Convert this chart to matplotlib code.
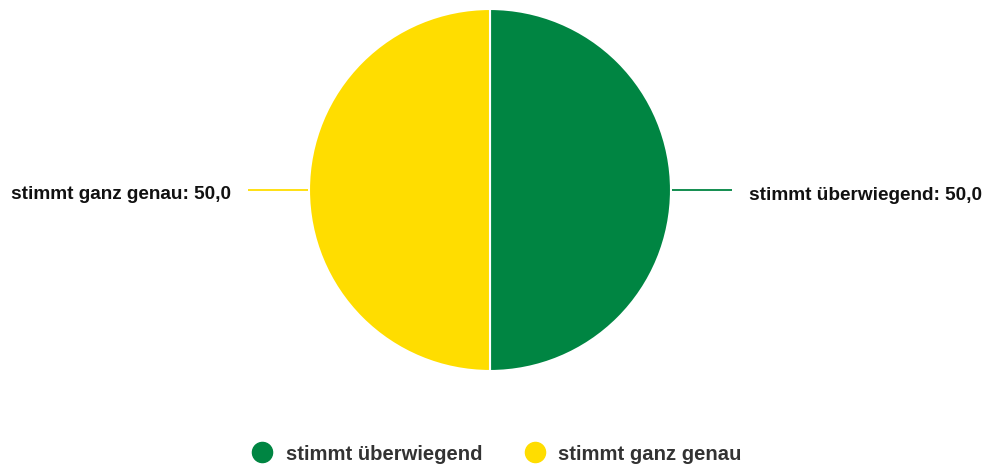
import matplotlib
matplotlib.use("Agg")
import matplotlib.pyplot as plt
from matplotlib.lines import Line2D
import numpy as np

categories = ["stimmt überwiegend", "stimmt ganz genau"]
values = [50.0, 50.0]
colors = ["#008542", "#FFDD00"]

plt.rcParams['font.family'] = ['Liberation Sans', 'DejaVu Sans']

W, H = 988, 469
fig = plt.figure(figsize=(W / 100, H / 100), dpi=100)
ax = fig.add_axes([0, 0, 1, 1])

cx, cy, r = 490, H - 190, 181
wedges, _ = ax.pie(values, colors=colors, startangle=90, counterclock=False,
                   center=(cx, cy), radius=r, frame=True,
                   wedgeprops=dict(edgecolor='white', linewidth=1.5))
ax.set_xlim(0, W)
ax.set_ylim(0, H)
ax.set_aspect('equal')
ax.axis('off')

for w, cat, val, col in zip(wedges, categories, values, colors):
    ang = np.deg2rad((w.theta1 + w.theta2) / 2)
    dx, dy = np.cos(ang), np.sin(ang)
    x0 = cx + (r + 1) * dx
    y0 = cy + (r + 1) * dy
    x1 = cx + (r + 61) * dx
    y1 = cy + (r + 61) * dy
    ax.plot([x0, x1], [y0, y1], color=col, lw=1.3, solid_capstyle='butt')
    ha = 'left' if dx > 0 else 'right'
    tx = x1 + 17 * (1 if dx > 0 else -1)
    ax.text(tx, y1 - 5, f"{cat}: {val:.1f}".replace('.', ','), ha=ha, va='center',
            fontsize=13.7, fontweight='bold', color='#111111')

handles = [Line2D([], [], marker='o', linestyle='none', markersize=14.5,
                  markerfacecolor=c, markeredgecolor=c) for c in colors]
leg = fig.legend(handles, categories, loc='center', ncol=2,
                 bbox_to_anchor=(0.5 + 3 / W, 1 - 454 / H), frameon=False,
                 prop=dict(size=14.6, weight='bold'), labelcolor='#333333',
                 handletextpad=0.65, columnspacing=2.1, handlelength=1.0)

fig.savefig("out.png", dpi=100)
